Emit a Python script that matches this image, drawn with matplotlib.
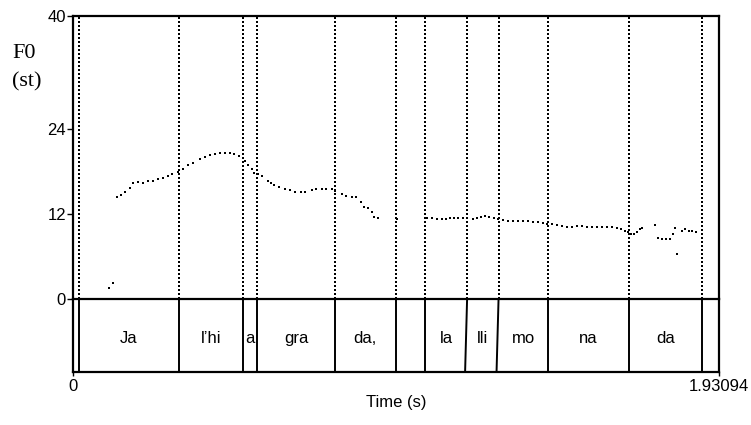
# F0 contour with word tier (Praat-style picture)
import matplotlib
matplotlib.use('Agg')
import matplotlib.pyplot as plt

plt.rcParams['font.family'] = ['Liberation Sans', 'DejaVu Sans']

T_END = 1.93094

# pitch points: time (s), F0 (st)
f0_t = [0.108, 0.120,
        0.132, 0.143, 0.155, 0.170, 0.179, 0.194, 0.209, 0.224, 0.239, 0.254,
        0.269, 0.284, 0.296, 0.314, 0.329, 0.344, 0.359, 0.380, 0.395, 0.410,
        0.424, 0.439, 0.454, 0.469, 0.481, 0.496, 0.508, 0.514, 0.523, 0.535,
        0.541, 0.553, 0.565, 0.583, 0.592, 0.601, 0.616, 0.634, 0.649, 0.664,
        0.682, 0.693, 0.714, 0.726, 0.744, 0.756, 0.774, 0.783, 0.804, 0.816,
        0.834, 0.846, 0.861, 0.870, 0.882, 0.894, 0.900, 0.912,
        0.968,
        1.058, 1.073, 1.088, 1.103, 1.115, 1.127, 1.139, 1.151, 1.166, 1.178,
        1.196, 1.208, 1.220, 1.232, 1.243, 1.258, 1.270, 1.285, 1.300, 1.315,
        1.330, 1.345, 1.360, 1.375, 1.390, 1.405, 1.417, 1.432, 1.447, 1.462,
        1.477, 1.492, 1.506, 1.521, 1.536, 1.551, 1.566, 1.581, 1.596, 1.611,
        1.626, 1.638, 1.650, 1.659, 1.668, 1.677, 1.686, 1.695, 1.701,
        1.740, 1.749, 1.761, 1.773, 1.785, 1.793, 1.799, 1.805, 1.820, 1.829,
        1.841, 1.850, 1.862]
f0_st = [1.55, 2.26,
         14.4, 14.7, 15.1, 15.7, 16.4, 16.5, 16.4, 16.7, 16.7, 17.0,
         17.1, 17.4, 17.7, 17.9, 18.4, 18.9, 19.2, 19.8, 20.1, 20.4,
         20.5, 20.6, 20.6, 20.6, 20.5, 20.2, 19.9, 19.5, 18.9, 18.4,
         17.8, 17.6, 17.4, 16.7, 16.4, 16.1, 15.8, 15.5, 15.4, 15.1,
         15.1, 15.1, 15.4, 15.5, 15.5, 15.5, 15.5, 15.3, 14.8, 14.6,
         14.4, 14.4, 13.7, 13.0, 12.9, 12.3, 11.6, 11.4,
         11.3,
         11.4, 11.4, 11.3, 11.3, 11.3, 11.4, 11.4, 11.4, 11.4, 11.4,
         11.3, 11.4, 11.6, 11.7, 11.6, 11.4, 11.3, 11.2, 11.0, 11.0,
         11.0, 11.0, 11.0, 10.9, 10.9, 10.7, 10.6, 10.6, 10.5, 10.3,
         10.2, 10.2, 10.3, 10.3, 10.2, 10.2, 10.2, 10.2, 10.2, 10.2,
         10.0, 9.9, 9.6, 9.5, 9.2, 9.2, 9.5, 9.9, 10.0,
         10.5, 8.6, 8.5, 8.5, 8.5, 9.2, 10.0, 6.4, 9.6, 9.9,
         9.6, 9.6, 9.5]

# word tier: boundaries (top, bottom) and labels
bounds_top = [0.018, 0.317, 0.508, 0.550, 0.783, 0.964, 1.052, 1.178, 1.272,
              1.420, 1.662, 1.880]
bounds_bot = [0.018, 0.317, 0.508, 0.550, 0.783, 0.964, 1.052, 1.172, 1.266,
              1.420, 1.662, 1.880]
words = ['Ja', 'l’hi', 'a', 'gra', 'da,', '', 'la', 'lli', 'mo', 'na', 'da', '']

W, H = 751, 425
fig = plt.figure(figsize=(W / 100, H / 100), dpi=100)
x0, x1 = 73, 719
ytop, ymid, ybot = 16, 299, 372
ax1 = fig.add_axes([x0 / W, 1 - ymid / H, (x1 - x0) / W, (ymid - ytop) / H])
ax2 = fig.add_axes([x0 / W, 1 - ybot / H, (x1 - x0) / W, (ybot - ymid) / H])

for ax in (ax1, ax2):
    ax.set_xlim(0, T_END)
    for s in ax.spines.values():
        s.set_linewidth(1.6)

# pitch panel
ax1.set_ylim(0, 40)
ax1.spines['bottom'].set_visible(False)
ax1.set_xticks([])
ax1.set_yticks([0, 12, 24, 40])
ax1.tick_params(axis='y', direction='out', length=4, width=1, pad=1,
                labelsize=12)
for b in bounds_top:
    ax1.axvline(b, color='black', lw=1.1, linestyle=(0, (1, 1.6)),
                antialiased=False)
ax1.plot(f0_t, f0_st, linestyle='none', marker='s', markersize=2.1,
         color='black', markeredgewidth=0)

# tier panel
ax2.set_ylim(0, 1)
ax2.set_yticks([])
ax2.set_xticks([0, T_END])
ax2.set_xticklabels(['0', '1.93094'])
ax2.tick_params(axis='x', direction='out', length=3, width=1, pad=2,
                labelsize=12)
for bt, bb in zip(bounds_top, bounds_bot):
    ax2.plot([bb, bt], [0, 1], color='black', lw=1.4)
edges = bounds_top + [T_END]
for i, w in enumerate(words):
    ax2.text((edges[i] + edges[i + 1]) / 2, 0.46, w, ha='center', va='center',
             fontsize=12)
ax2.set_xlabel('Time (s)', fontsize=12, labelpad=1)

fig.text(12 / W, 1 - 54 / H, 'F0', family='Liberation Serif', fontsize=16,
         ha='left', va='center')
fig.text(12 / W, 1 - 82 / H, '(st)', family='Liberation Serif', fontsize=16,
         ha='left', va='center')

fig.savefig('out.png', dpi=100)
